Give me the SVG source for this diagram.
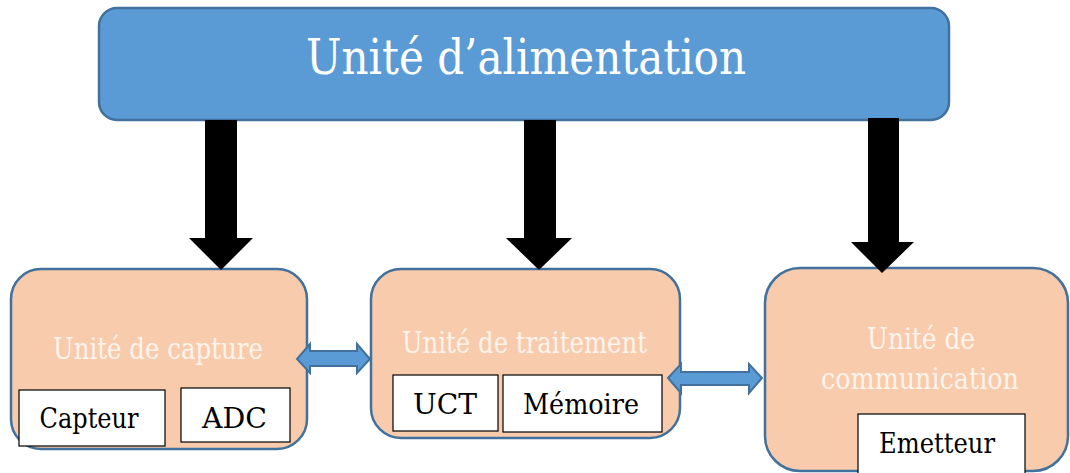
<svg xmlns="http://www.w3.org/2000/svg" width="1070" height="473" viewBox="0 0 1070 473">
<style>
.unit{fill:#F8CBAD;stroke:#41719C;stroke-width:2.5}
.top{fill:#5B9BD5;stroke:#41719C;stroke-width:2.5}
.sub{fill:#FFFFFF;stroke:#000000;stroke-width:1.2}
text{font-family:'DejaVu Serif',serif;text-anchor:middle}
.w{fill:#FFFFFF}
.wl{fill:#FFF4EC}
.k{fill:#000000}
.pw{fill:#000000}
.dbl{fill:#5B9BD5;stroke:#41719C;stroke-width:2}
</style>
<rect width="1070" height="473" fill="#FFFFFF"/>
<g id="alimentation">
<rect class="top" x="99" y="8" width="850" height="112" rx="18"/>
<text class="w" x="526" y="74" font-size="49" textLength="440" lengthAdjust="spacingAndGlyphs">Unité d’alimentation</text>
</g>
<g id="capture">
<rect class="unit" x="11" y="269" width="296" height="180" rx="30"/>
<text class="wl" x="158" y="359" font-size="29" textLength="210" lengthAdjust="spacingAndGlyphs">Unité de capture</text>
<g id="capteur">
<rect class="sub" x="19" y="390" width="146" height="56"/>
<text class="k" x="89" y="428" font-size="28" textLength="99" lengthAdjust="spacingAndGlyphs">Capteur</text>
</g>
<g id="adc">
<rect class="sub" x="181" y="388" width="109" height="54"/>
<text class="k" x="234.5" y="428" font-size="28" textLength="65" lengthAdjust="spacingAndGlyphs">ADC</text>
</g>
</g>
<g id="traitement">
<rect class="unit" x="371" y="269" width="309" height="169" rx="30"/>
<text class="wl" x="524.5" y="353" font-size="29" textLength="245" lengthAdjust="spacingAndGlyphs">Unité de traitement</text>
<g id="uct">
<rect class="sub" x="393" y="375" width="105" height="56"/>
<text class="k" x="445" y="414" font-size="28" textLength="64" lengthAdjust="spacingAndGlyphs">UCT</text>
</g>
<g id="memoire">
<rect class="sub" x="503" y="375" width="159" height="57"/>
<text class="k" x="581" y="414" font-size="28" textLength="116" lengthAdjust="spacingAndGlyphs">Mémoire</text>
</g>
</g>
<g id="communication">
<rect class="unit" x="765" y="268" width="303" height="203" rx="35"/>
<text class="wl" x="921" y="349" font-size="29" textLength="108" lengthAdjust="spacingAndGlyphs">Unité de</text>
<text class="wl" x="920" y="389" font-size="29" textLength="198" lengthAdjust="spacingAndGlyphs">communication</text>
<g id="emetteur">
<rect class="sub" x="858" y="414" width="167" height="70"/>
<text class="k" x="937" y="453" font-size="28" textLength="116" lengthAdjust="spacingAndGlyphs">Emetteur</text>
</g>
</g>
<g id="connectors">
<polygon class="pw" points="205,120 237,120 237,238 253,238 221,270 189,238 205,238"/>
<polygon class="pw" points="524,120 556,120 556,238 572,238 539,270 506,238 524,238"/>
<polygon class="pw" points="868,118 899,118 899,242 914,242 882,273 851,242 868,242"/>
<polygon class="dbl" points="297,359 310,344 310,351 357,351 357,344 370,359 357,373 357,366 310,366 310,373"/>
<polygon class="dbl" points="668,378 681,364 681,372 749,372 749,364 762,378 749,393 749,385 681,385 681,393"/>
</g>
</svg>
